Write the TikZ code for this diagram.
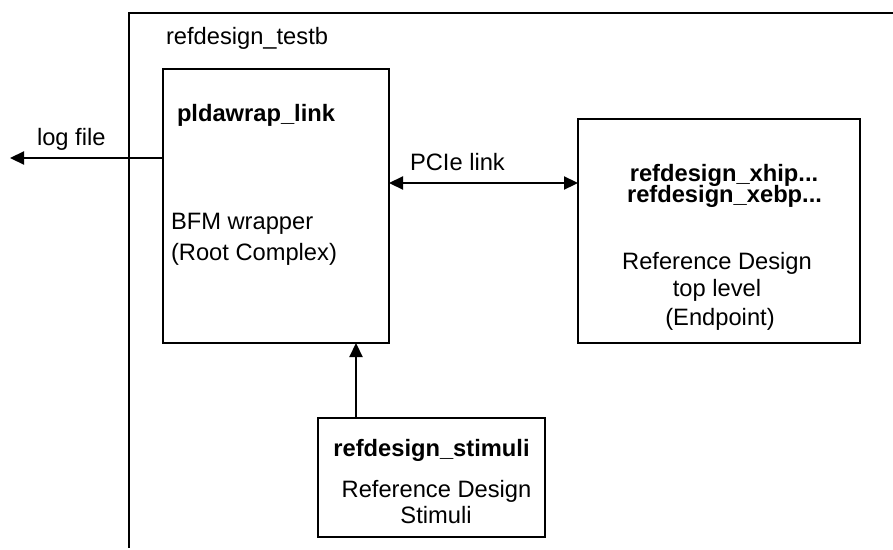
\documentclass[tikz,border=0pt]{standalone}
\usepackage{fontspec}
\setmainfont{Liberation Sans}
\usetikzlibrary{arrows.meta}
\begin{document}
\begin{tikzpicture}[x=1pt,y=-1pt,
  every node/.style={inner sep=0pt,outer sep=0pt},
  box/.style={draw,line width=2.2pt,anchor=north west},
  lbl/.style={font=\fontsize{23.7}{28}\selectfont},
  blbl/.style={font=\fontsize{23.7}{28}\selectfont\bfseries},
  conn/.style={line width=2.2pt,-{Triangle[length=14pt,width=13pt]}},
  conn2/.style={line width=2.2pt,{Triangle[length=14pt,width=13pt]}-{Triangle[length=14pt,width=13pt]}}
]
\useasboundingbox (0,0) rectangle (893,549);
% outer frame (refdesign_testb)
\coordinate (ftr) at (893,13);
\coordinate (ftl) at (129,13);
\coordinate (fbl) at (129,548);
\draw[line width=2.2pt] (ftr) -- (ftl) -- (fbl);
\node[lbl,anchor=base west] (tblbl) at (166,44) {refdesign\_testb};
% boxes
\node[box,minimum width=226pt,minimum height=274pt] (pld) at (163,69) {};
\node[box,minimum width=282pt,minimum height=224pt] (ep) at (578,119) {};
\node[box,minimum width=227pt,minimum height=119pt] (stim) at (318,418) {};
% texts in pldawrap_link
\node[blbl,anchor=base west] (pldt) at (177,121) {pldawrap\_link};
\node[lbl,anchor=base west] (bfm) at (171,229) {BFM wrapper};
\node[lbl,anchor=base west] (rc) at (171,260) {(Root Complex)};
% texts in endpoint box
\node[blbl,anchor=base] (xhip) at (724,181.5) {refdesign\_xhip...};
\node[blbl,anchor=base] (xebp) at (724.5,202.7) {refdesign\_xebp...};
\node[lbl,anchor=base] (rd1) at (717,269) {Reference Design};
\node[lbl,anchor=base] (tl) at (717,296) {top level};
\node[lbl,anchor=base] (endp) at (720,325) {(Endpoint)};
% texts in stimuli box
\node[blbl,anchor=base] (stimt) at (431.5,456.5) {refdesign\_stimuli};
\node[lbl,anchor=base] (rd2) at (436.5,497.5) {Reference Design};
\node[lbl,anchor=base] (stimu) at (436,523) {Stimuli};
% connectors
\coordinate (logend) at (10,158);
\draw[conn] (pld.west |- logend) -- (logend);
\node[lbl,anchor=base west] (logt) at (37,145) {log file};
\coordinate (pciey) at (480,183);
\draw[conn2] (pld.east |- pciey) -- (ep.west |- pciey);
\node[lbl,anchor=base west] (pcielbl) at (410,170) {PCIe link};
\coordinate (stx) at (356,380);
\draw[conn] (stim.north -| stx) -- (pld.south -| stx);
\end{tikzpicture}
\end{document}
